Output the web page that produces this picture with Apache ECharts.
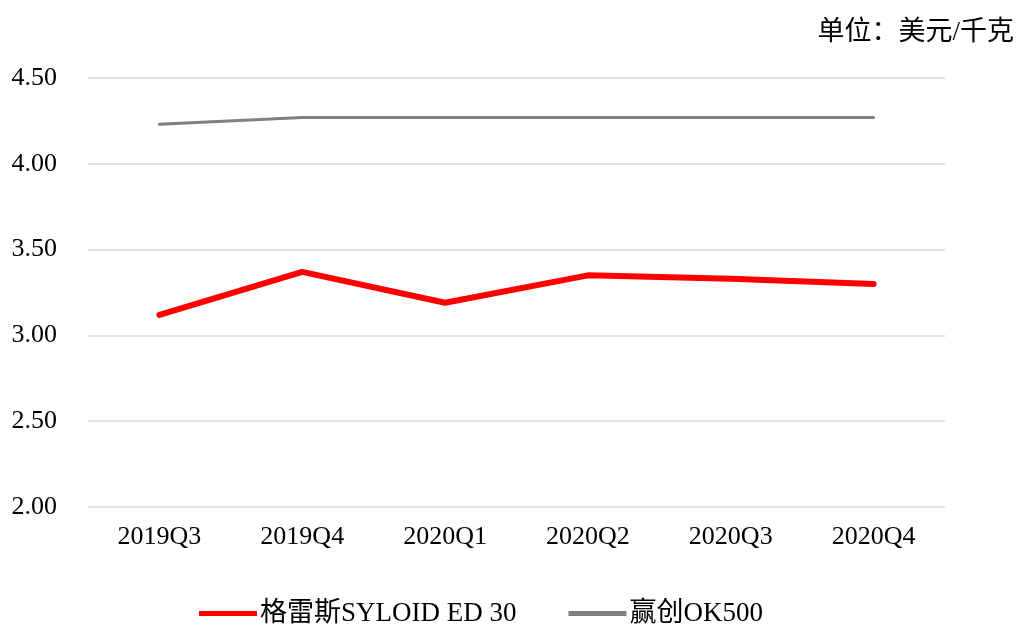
<!DOCTYPE html>
<html>
<head>
<meta charset="utf-8">
<script src="https://cdn.jsdelivr.net/npm/echarts@6/dist/echarts.min.js"></script>
<style>
  html, body { margin: 0; padding: 0; background: #fff; }
  #chart { width: 1021px; height: 631px; }
</style>
</head>
<body>
<div id="chart"></div>
<script>
// 季度
const quarters = ['2019Q3', '2019Q4', '2020Q1', '2020Q2', '2020Q3', '2020Q4']
// 价格（美元/千克）
const gracePrice = [3.12, 3.37, 3.19, 3.35, 3.33, 3.30]
const evonikPrice = [4.23, 4.27, 4.27, 4.27, 4.27, 4.27]
const seriesNames = ['格雷斯SYLOID ED 30', '赢创OK500']

const font = '"Liberation Serif", "Times New Roman", "Noto Sans CJK SC", serif'

const chart = echarts.init(document.getElementById('chart'))
chart.setOption({
  animation: false,
  grid: { left: 88, right: 76, top: 78, bottom: 124 },
  title: {
    text: '单位：美元/千克',
    right: 2,
    top: 14,
    textStyle: { fontFamily: font, fontSize: 27, fontWeight: 'normal', color: '#000' }
  },
  legend: {
    bottom: -1,
    left: 194,
    itemGap: 52,
    itemWidth: 58,
    itemHeight: 5,
    icon: 'rect',
    textStyle: { fontFamily: font, fontSize: 27, color: '#000', padding: [0, 0, 0, -2] },
    data: seriesNames
  },
  xAxis: {
    type: 'category',
    data: quarters,
    boundaryGap: true,
    axisLine: { show: false },
    axisTick: { show: false },
    axisLabel: { fontFamily: font, fontSize: 26, color: '#000', margin: 17 }
  },
  yAxis: {
    type: 'value',
    min: 2,
    max: 4.5,
    interval: 0.5,
    axisLine: { show: false },
    axisTick: { show: false },
    axisLabel: {
      fontFamily: font,
      fontSize: 26,
      color: '#000',
      margin: 31,
      formatter: v => v.toFixed(2)
    },
    splitLine: { lineStyle: { color: '#d9d9d9', width: 1.5 } }
  },
  series: [
    {
      name: seriesNames[0],
      type: 'line',
      data: gracePrice,
      showSymbol: false,
      itemStyle: { color: '#ff0000' },
      lineStyle: { width: 6, color: '#ff0000', cap: 'round', join: 'round' }
    },
    {
      name: seriesNames[1],
      type: 'line',
      data: evonikPrice,
      showSymbol: false,
      itemStyle: { color: '#808080' },
      lineStyle: { width: 3, color: '#808080', cap: 'round' }
    }
  ]
})
</script>
</body>
</html>
